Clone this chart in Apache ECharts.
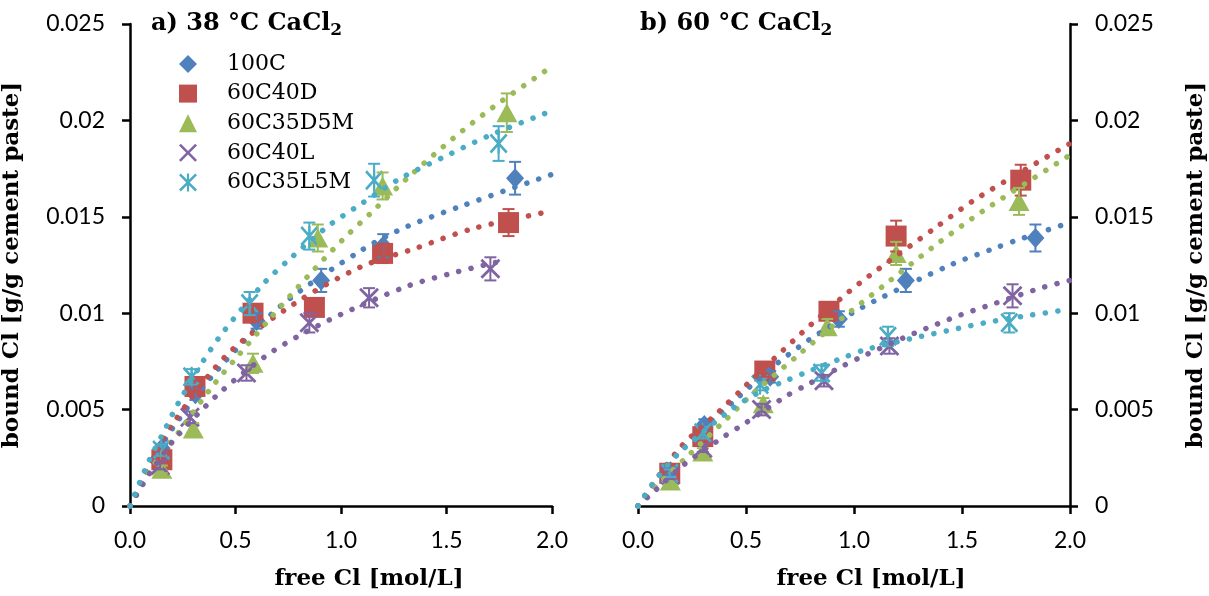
<!DOCTYPE html>
<html>
<head>
<meta charset="utf-8">
<script src="https://cdn.jsdelivr.net/npm/echarts@6/dist/echarts.min.js"></script>
<style>
  html, body { margin: 0; padding: 0; background: #fff; }
  #chart { width: 1209px; height: 596px; }
</style>
</head>
<body>
<div id="chart"></div>
<script>
// ---- tick labels ----
const xTickLabels = ['0.0', '0.5', '1.0', '1.5', '2.0'];
const yTickLabels = ['0', '0.005', '0.01', '0.015', '0.02', '0.025'];

// ---- sample names ----
const samples = ['100C', '60C40D', '60C35D5M', '60C40L', '60C35L5M'];

// ---- 38 °C CaCl2: [free Cl, bound Cl, error] ----
const p38_100C     = [[0.15, 0.0030, 0.0002], [0.31, 0.0058, 0.0003], [0.60, 0.0096, 0.0004], [0.906, 0.0117, 0.0006], [1.20, 0.0135, 0.0006], [1.825, 0.0170, 0.00085]];
const p38_60C40D   = [[0.151, 0.0024, 0.0002], [0.308, 0.0062, 0.0003], [0.583, 0.0100, 0.0004], [0.874, 0.0103, 0.0004], [1.197, 0.0131, 0.0005], [1.794, 0.0147, 0.0007]];
const p38_60C35D5M = [[0.151, 0.0019, 0.0002], [0.300, 0.0040, 0.0003], [0.583, 0.0074, 0.0005], [0.890, 0.0139, 0.0007], [1.197, 0.0166, 0.0007], [1.786, 0.0204, 0.0010]];
const p38_60C40L   = [[0.143, 0.0021, 0.0002], [0.284, 0.0046, 0.0003], [0.552, 0.0069, 0.0004], [0.850, 0.0095, 0.0005], [1.133, 0.0108, 0.0005], [1.708, 0.0123, 0.0006]];
const p38_60C35L5M = [[0.148, 0.0029, 0.0003], [0.292, 0.0067, 0.0004], [0.567, 0.0105, 0.0006], [0.850, 0.0140, 0.0007], [1.157, 0.0169, 0.00085], [1.747, 0.0188, 0.0009]];

// ---- 60 °C CaCl2: [free Cl, bound Cl, error] ----
const p60_100C     = [[0.150, 0.0018, 0.0002], [0.307, 0.0042, 0.0003], [0.612, 0.0067, 0.0003], [0.930, 0.0097, 0.0004], [1.240, 0.0117, 0.0006], [1.840, 0.0139, 0.0007]];
const p60_60C40D   = [[0.147, 0.0017, 0.0002], [0.300, 0.0036, 0.0003], [0.587, 0.0070, 0.0003], [0.884, 0.0101, 0.0004], [1.195, 0.0140, 0.0008], [1.772, 0.0169, 0.0008]];
const p60_60C35D5M = [[0.150, 0.0013, 0.0002], [0.300, 0.0028, 0.0002], [0.580, 0.0053, 0.0003], [0.876, 0.0093, 0.0004], [1.195, 0.0131, 0.0006], [1.764, 0.0158, 0.0007]];
const p60_60C40L   = [[0.150, 0.0016, 0.0002], [0.300, 0.0030, 0.0002], [0.572, 0.0050, 0.0003], [0.861, 0.0065, 0.0003], [1.164, 0.0083, 0.0004], [1.734, 0.0109, 0.0006]];
const p60_60C35L5M = [[0.147, 0.0017, 0.0002], [0.300, 0.0038, 0.0003], [0.565, 0.0063, 0.0003], [0.850, 0.0069, 0.0004], [1.157, 0.0088, 0.0005], [1.719, 0.0095, 0.0005]];

// ---- trend lines, 38 °C ----
const fit38_100C     = [[0, 0], [0.1, 0.0022], [0.206, 0.0041], [0.418, 0.0071], [0.717, 0.0104], [1.102, 0.0133], [1.314, 0.0145], [1.582, 0.0156], [2.0, 0.0172]];
const fit38_60C40D   = [[0, 0], [0.1, 0.0023], [0.198, 0.0042], [0.465, 0.0079], [0.78, 0.0105], [1.094, 0.0124], [1.362, 0.0134], [1.629, 0.0144], [2.0, 0.0153]];
const fit38_60C35D5M = [[0, 0], [0.104, 0.0020], [0.222, 0.0037], [0.39, 0.0062], [0.505, 0.0077], [0.662, 0.0097], [0.85, 0.0120], [1.016, 0.0139], [1.142, 0.0152], [1.314, 0.0170], [1.535, 0.0191], [1.723, 0.0207], [2.0, 0.0228]];
const fit38_60C40L   = [[0, 0], [0.1, 0.0018], [0.214, 0.0035], [0.418, 0.0058], [0.646, 0.0078], [0.796, 0.0088], [0.992, 0.0099], [1.314, 0.0114], [1.535, 0.0121], [1.76, 0.0127]];
const fit38_60C35L5M = [[0, 0], [0.088, 0.0023], [0.167, 0.0040], [0.222, 0.0052], [0.34, 0.0074], [0.44, 0.0090], [0.63, 0.0115], [0.756, 0.0128], [0.937, 0.0145], [1.086, 0.0156], [1.283, 0.0170], [1.487, 0.0181], [1.70, 0.0192], [2.0, 0.0205]];

// ---- trend lines, 60 °C ----
const fit60_100C     = [[0, 0], [0.2, 0.0029], [0.46, 0.0056], [0.633, 0.0073], [0.79, 0.0086], [0.99, 0.0100], [1.089, 0.0106], [1.446, 0.0125], [1.658, 0.0134], [1.757, 0.0138], [2.0, 0.0147]];
const fit60_60C40D   = [[0, 0], [0.193, 0.0030], [0.375, 0.0049], [0.504, 0.0063], [0.626, 0.0076], [0.80, 0.0094], [0.975, 0.0111], [1.066, 0.0119], [1.385, 0.0145], [1.575, 0.0160], [2.0, 0.0188]];
const fit60_60C35D5M = [[0, 0], [0.1, 0.0012], [0.231, 0.0026], [0.39, 0.0043], [0.519, 0.0057], [0.739, 0.0078], [0.952, 0.0098], [1.134, 0.0114], [1.362, 0.0134], [1.597, 0.0153], [2.0, 0.0182]];
const fit60_60C40L   = [[0, 0], [0.079, 0.0008], [0.208, 0.0021], [0.398, 0.0036], [0.497, 0.0043], [0.686, 0.0057], [0.785, 0.0063], [0.937, 0.0072], [1.028, 0.0077], [1.225, 0.0087], [1.332, 0.0092], [1.491, 0.0099], [1.65, 0.0105], [1.863, 0.0113], [2.0, 0.0117]];
const fit60_60C35L5M = [[0, 0], [0.071, 0.0012], [0.185, 0.0027], [0.443, 0.0051], [0.58, 0.0060], [0.686, 0.0065], [0.793, 0.0070], [0.952, 0.0077], [1.05, 0.0081], [1.271, 0.0087], [1.438, 0.0091], [1.605, 0.0095], [1.818, 0.0099], [2.0, 0.0102]];

// ---- styling ----
const SERIF = '"DejaVu Serif", "Liberation Serif", serif';
const SANS = 'Lato, "Open Sans", sans-serif';
const colors = ['#4F81BD', '#C0504D', '#9BBB59', '#8064A2', '#4BACC6'];
const X_PATH = 'path://M2,0 L10,8 L18,0 L20,2 L12,10 L20,18 L18,20 L10,12 L2,20 L0,18 L8,10 L0,2 Z';
const STAR_PATH = 'path://M2,0 L10,8 L18,0 L20,2 L12,10 L20,18 L18,20 L10,12 L2,20 L0,18 L8,10 L0,2 Z M8.8,0 L11.2,0 L11.2,20 L8.8,20 Z';
const symbols = ['diamond', 'rect', 'triangle', X_PATH, STAR_PATH];
const symbolSizes = [[18, 20], [21, 21], [21, 19], [20, 20], [18, 20]];

function errorBarRenderer(color) {
  return function (params, api) {
    const x = api.value(0), y = api.value(1), e = api.value(2);
    const top = api.coord([x, y + e]);
    const bot = api.coord([x, y - e]);
    const cap = 6;
    const st = { stroke: color, lineWidth: 2 };
    return {
      type: 'group',
      children: [
        { type: 'line', shape: { x1: top[0], y1: top[1], x2: bot[0], y2: bot[1] }, style: st },
        { type: 'line', shape: { x1: top[0] - cap, y1: top[1], x2: top[0] + cap, y2: top[1] }, style: st },
        { type: 'line', shape: { x1: bot[0] - cap, y1: bot[1], x2: bot[0] + cap, y2: bot[1] }, style: st }
      ]
    };
  };
}

function panelSeries(points, fits, g) {
  const out = [];
  samples.forEach((name, i) => {
    out.push({
      name: name, type: 'scatter', xAxisIndex: g, yAxisIndex: g,
      data: points[i].map(p => [p[0], p[1]]),
      symbol: symbols[i], symbolSize: symbolSizes[i],
      itemStyle: { color: colors[i], opacity: 1 }, z: 2
    });
    out.push({
      name: name, type: 'custom', xAxisIndex: g, yAxisIndex: g,
      data: points[i], encode: { x: 0, y: 1 },
      renderItem: errorBarRenderer(colors[i]),
      itemStyle: { color: colors[i] }, z: 3, silent: true
    });
  });
  samples.forEach((name, i) => {
    out.push({
      name: name + ' trend', type: 'line', xAxisIndex: g, yAxisIndex: g,
      data: fits[i], showSymbol: false, symbol: 'none', smooth: 0.3,
      lineStyle: { color: colors[i], width: 5.5, type: [0.1, 12.5], cap: 'round' },
      z: 4, silent: true
    });
  });
  return out;
}

const axisLineStyle = { color: '#000', width: 2.5 };
const nameStyle = { fontFamily: SERIF, fontWeight: 'bold', fontSize: 23, color: '#000' };
function xAxisCfg(g, shift) {
  return {
    type: 'value', gridIndex: g, min: 0, max: 2, interval: 0.5,
    name: 'free Cl [mol/L]', nameLocation: 'middle', nameGap: 62,
    nameTextStyle: Object.assign({ padding: [0, 0, 0, shift] }, nameStyle),
    axisLine: { show: true, onZero: false, lineStyle: axisLineStyle },
    axisTick: { show: true, inside: false, length: 8, lineStyle: { color: '#000', width: 2.5 } },
    axisLabel: { margin: 23, fontFamily: SANS, fontSize: 23, color: '#000',
      formatter: v => xTickLabels[Math.round(v / 0.5)] },
    splitLine: { show: false }
  };
}
function yAxisCfg(g, pos, gap) {
  return {
    type: 'value', gridIndex: g, position: pos, min: 0, max: 0.025, interval: 0.005,
    name: 'bound Cl [g/g cement paste]', nameLocation: 'middle', nameGap: gap, nameRotate: 90,
    nameTextStyle: nameStyle,
    axisLine: { show: true, onZero: false, lineStyle: axisLineStyle },
    axisTick: { show: true, inside: false, length: 8, lineStyle: { color: '#000', width: 2.5 } },
    axisLabel: { margin: 25, fontFamily: SANS, fontSize: 23, color: '#000',
      formatter: v => yTickLabels[Math.round(v / 0.005)] },
    splitLine: { show: false }
  };
}

const titleRich = {
  t: { fontFamily: SERIF, fontWeight: 'bold', fontSize: 24, color: '#000' },
  s: { fontFamily: SERIF, fontWeight: 'bold', fontSize: 17, color: '#000', padding: [14, 0, 0, 0] }
};

const option = {
  animation: false,
  backgroundColor: '#fff',
  title: [
    { text: '{t|a) 38 °C CaCl}{s|2}', left: 146, top: 3, textStyle: { rich: titleRich } },
    { text: '{t|b) 60 °C CaCl}{s|2}', left: 635, top: 3, textStyle: { rich: titleRich } }
  ],
  legend: {
    orient: 'vertical', left: 174, top: 48, itemWidth: 18, itemHeight: 18, itemGap: 7.6,
    selectedMode: false,
    data: samples.map((name, i) => ({ name: name, icon: symbols[i], itemStyle: { color: colors[i] } })),
    textStyle: { fontFamily: SERIF, fontSize: 22, color: '#000', lineHeight: 22, padding: [0, 0, 0, 25] }
  },
  grid: [
    { left: 128, top: 24, width: 424, height: 488 },
    { left: 638, top: 24, width: 439, height: 484 }
  ],
  xAxis: [xAxisCfg(0, 56), xAxisCfg(1, 34)],
  yAxis: [yAxisCfg(0, 'left', 106), yAxisCfg(1, 'right', 115)],
  series: panelSeries([p38_100C, p38_60C40D, p38_60C35D5M, p38_60C40L, p38_60C35L5M],
                      [fit38_100C, fit38_60C40D, fit38_60C35D5M, fit38_60C40L, fit38_60C35L5M], 0)
    .concat(panelSeries([p60_100C, p60_60C40D, p60_60C35D5M, p60_60C40L, p60_60C35L5M],
                        [fit60_100C, fit60_60C40D, fit60_60C35D5M, fit60_60C40L, fit60_60C35L5M], 1))
};

const chart = echarts.init(document.getElementById('chart'), null, { renderer: 'canvas' });
chart.setOption(option);
</script>
</body>
</html>
